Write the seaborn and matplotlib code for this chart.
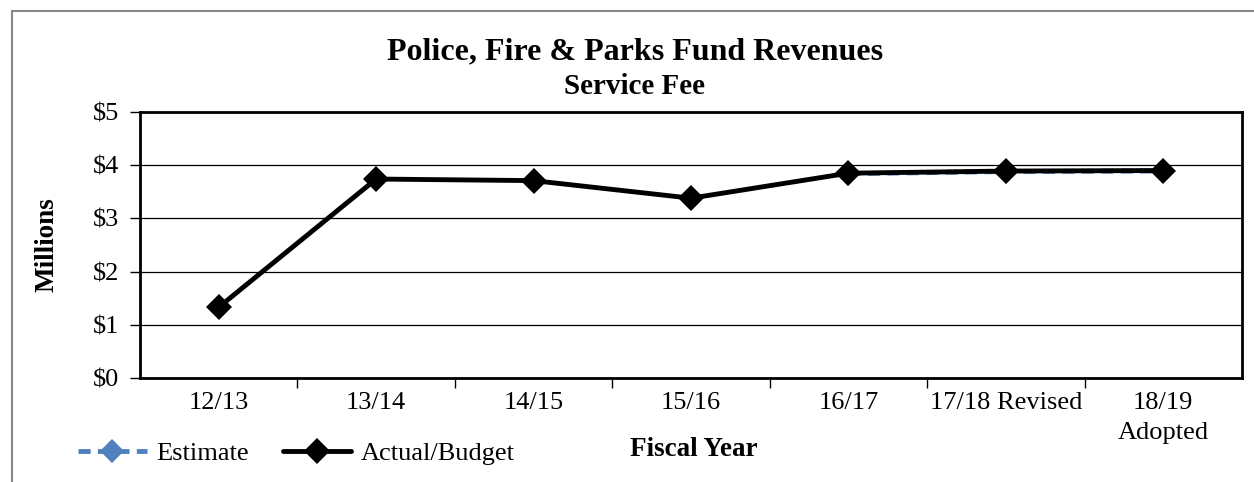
import matplotlib
matplotlib.use("Agg")
import matplotlib.pyplot as plt
import seaborn as sns
import pandas as pd
from matplotlib.lines import Line2D

sns.set_theme(style="white")
plt.rcParams["font.family"] = ["Liberation Serif", "DejaVu Serif"]
plt.rcParams["text.color"] = "black"
plt.rcParams["xtick.color"] = "black"
plt.rcParams["ytick.color"] = "black"
plt.rcParams["axes.labelcolor"] = "black"

years = ["12/13", "13/14", "14/15", "15/16", "16/17", "17/18 Revised", "18/19\nAdopted"]
actual = [1.33, 3.74, 3.71, 3.38, 3.85, 3.89, 3.90]
estimate_years = ["16/17", "17/18 Revised", "18/19\nAdopted"]
estimate = [3.84, 3.88, 3.89]

df_act = pd.DataFrame({"x": range(len(years)), "y": actual})
df_est = pd.DataFrame({"x": [years.index(y) for y in estimate_years], "y": estimate})

fig = plt.figure(figsize=(12.54, 4.82), dpi=100)
ax = fig.add_axes([140 / 1254, 1 - 378 / 482, (1242 - 140) / 1254, (378 - 112) / 482])

sns.lineplot(data=df_est, x="x", y="y", ax=ax, color="#4F81BD", linewidth=3.5,
             linestyle=(0, (2.5, 1.5)), marker="D", markersize=12, markeredgewidth=0,
             zorder=3, label="Estimate")
sns.lineplot(data=df_act, x="x", y="y", ax=ax, color="black", linewidth=3.5,
             marker="D", markersize=13, markeredgewidth=0, zorder=4,
             label="Actual/Budget")

ax.set_xlim(-0.5, len(years) - 0.5)
ax.set_ylim(0, 5)
ax.set_yticks(range(0, 6))
ax.set_yticklabels([f"${v}" for v in range(0, 6)], fontsize=19)
ax.yaxis.grid(True, color="black", linewidth=0.9)
ax.xaxis.grid(False)

ax.set_xticks([i + 0.5 for i in range(len(years) - 1)])
ax.set_xticklabels([])
ax.set_xticks(range(len(years)), minor=True)
ax.set_xticklabels(years, minor=True, fontsize=19, va="top", linespacing=1.45)
ax.tick_params(axis="x", which="major", direction="out", length=7, width=1, color="black", bottom=True)
ax.tick_params(axis="x", which="minor", length=0, pad=10)
ax.tick_params(axis="y", direction="out", length=7, width=1, color="black", left=True, pad=8)

for s in ax.spines.values():
    s.set_color("black")
    s.set_linewidth(2)

ax.set_xlabel("")
ax.set_ylabel("Millions", fontsize=19.5, fontweight="bold", labelpad=24)

fig.text(635 / 1254, 1 - 52 / 482, "Police, Fire & Parks Fund Revenues", ha="center",
         va="center", fontsize=23, fontweight="bold")
fig.text(635 / 1254, 1 - 86 / 482, "Service Fee", ha="center", va="center",
         fontsize=21, fontweight="bold")
fig.text(694 / 1254, 1 - 449 / 482, "Fiscal Year", ha="center", va="center",
         fontsize=19.5, fontweight="bold")

ax.legend(loc="center left", bbox_to_anchor=(-62 / 1102, -75 / 266), ncol=2, frameon=False,
          fontsize=19, handlelength=2.6, columnspacing=1.3, handletextpad=0.35,
          borderaxespad=0, borderpad=0)

# frame of the chart area
fig.add_artist(Line2D([12 / 1254, 12 / 1254], [0, 1 - 11 / 482], transform=fig.transFigure,
                      color="#888888", linewidth=1.5))
fig.add_artist(Line2D([12 / 1254, 1], [1 - 11 / 482, 1 - 11 / 482], transform=fig.transFigure,
                      color="#888888", linewidth=1.5))

fig.savefig("out.png", dpi=100, facecolor="white")
